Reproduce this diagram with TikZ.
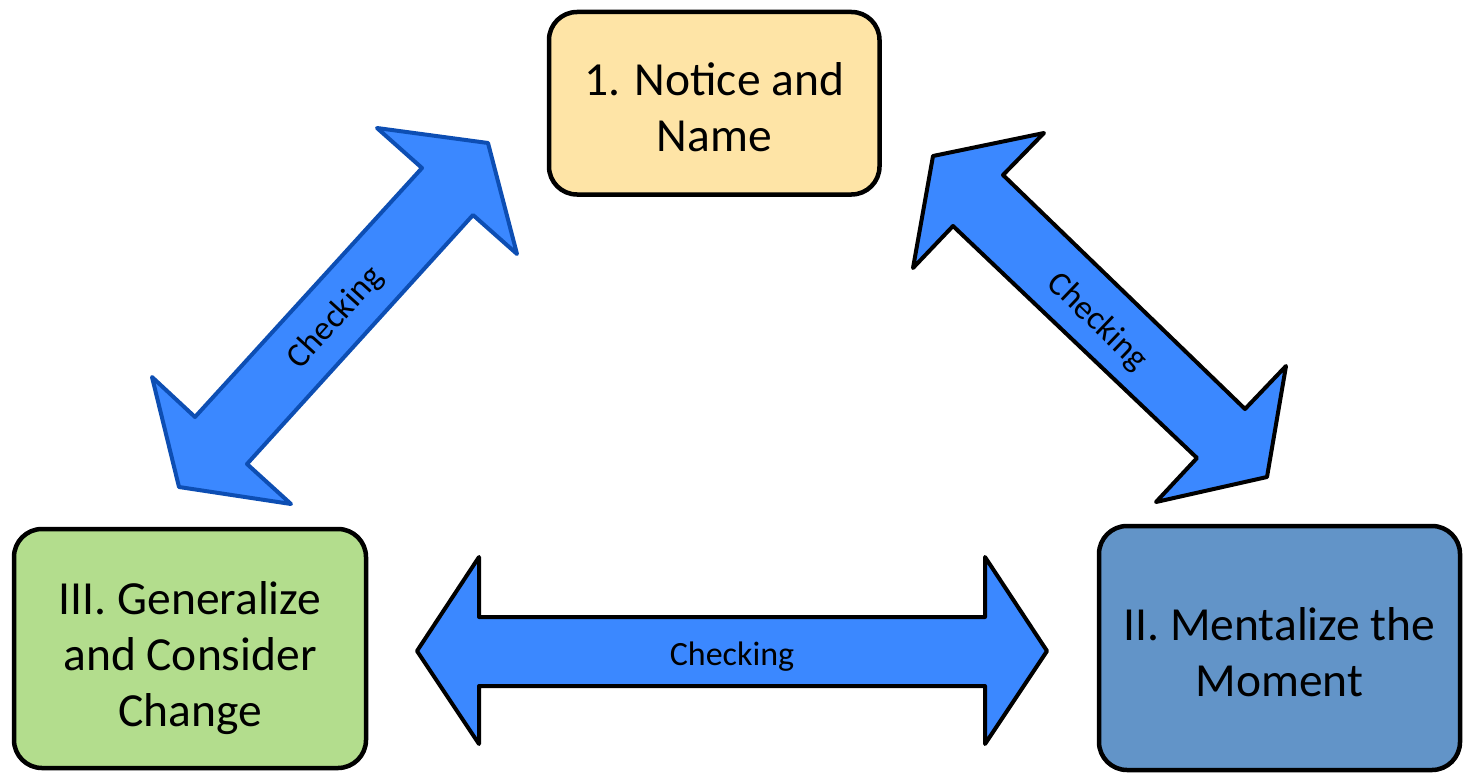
\documentclass[tikz,border=0pt]{standalone}
\usepackage{fontspec}
\setmainfont{Carlito}
\definecolor{topfill}{HTML}{FEE4A6}
\definecolor{leftfill}{HTML}{B3DD8D}
\definecolor{rightfill}{HTML}{6294C8}
\definecolor{arrowblue}{HTML}{3B88FF}
\definecolor{darkblue}{HTML}{0D4EB3}
\begin{document}
\begin{tikzpicture}[x=1pt,y=-1pt,
  box/.style={draw=black,line width=4.5pt,rounded corners=28pt,inner sep=0pt},
  boxtext/.style={inner sep=0pt,align=center,font=\fontsize{47.5}{56}\selectfont,text=black},
  blockarrow/.style={fill=arrowblue,draw=black,line width=4pt,line join=round},
  arrowlabel/.style={font=\fontsize{34}{40}\selectfont,inner sep=0pt,text=black}]
\useasboundingbox (0,0) rectangle (1463,773);
% boxes
\node[box,fill=topfill,minimum width=330.5pt,minimum height=182.5pt] (notice) at (714.25,103.25) {};
\node[boxtext] (noticetext) at (714.25,107.5) {1. Notice and\\Name};
\node[box,fill=leftfill,minimum width=352pt,minimum height=239pt] (generalize) at (190,648.5) {};
\node[boxtext] (generalizetext) at (190,658.5) {III. Generalize\\and Consider\\Change};
\node[box,fill=rightfill,minimum width=361pt,minimum height=244pt] (mentalize) at (1279.5,648) {};
\node[boxtext] (mentalizetext) at (1279.5,652.5) {II. Mentalize the\\Moment};
% left diagonal double arrow
\draw[blockarrow,draw=darkblue] (488,143) -- (517,254) -- (473,215) -- (247,464) -- (291,504) -- (179,487)
  -- (152,377) -- (195,417) -- (422,168) -- (377,128) -- cycle;
% right diagonal double arrow
\draw[blockarrow] (933,156) -- (1044,133) -- (1003,175) -- (1245,409) -- (1286,366) -- (1267,477)
  -- (1156,502) -- (1197,458) -- (953,226) -- (913,268) -- cycle;
% horizontal double arrow
\draw[blockarrow] (417,651) -- (479,557) -- (479,617) -- (985,617) -- (985,557) -- (1047,651)
  -- (985,744) -- (985,686) -- (479,686) -- (479,744) -- cycle;
% labels
\node[arrowlabel,rotate=47.8] (lcheck) at (336,318) {Checking};
\node[arrowlabel,rotate=-43.8] (rcheck) at (1097,322) {Checking};
\node[arrowlabel,anchor=base] (hcheck) at (732,665) {Checking};
\end{tikzpicture}
\end{document}
